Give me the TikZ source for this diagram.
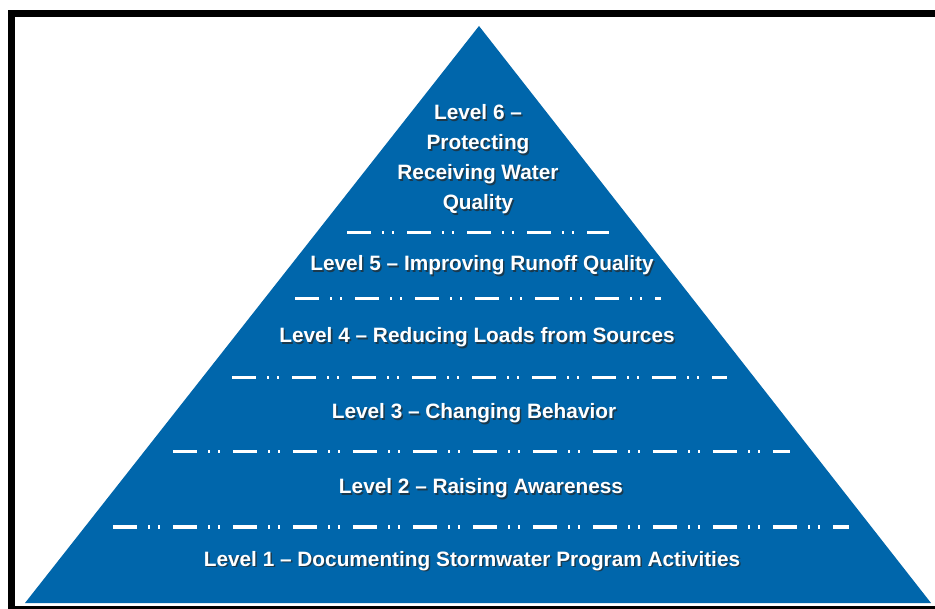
\documentclass[tikz,border=0pt]{standalone}
\usepackage{fontspec}
\setmainfont{Liberation Sans}
\usepackage{tikz}
\definecolor{pyrblue}{RGB}{0,102,171}
\tikzset{
  lvltext/.style={text=white, font=\fontsize{20.8}{30}\selectfont\bfseries, inner sep=0pt, align=center, anchor=base},
  lvlshadow/.style={lvltext, text=black!85, opacity=0.7},
  sepline/.style={white, line width=3pt, dash pattern=on 24pt off 11pt on 2pt off 8pt on 2pt off 13pt}
}
\newcommand{\lvl}[4]{ \node[lvlshadow] (#1s) at ( #2+1.5 , #3+1.5 ) {#4}; \node[lvltext] (#1) at ( #2 , #3 ) {#4};}
\newcommand{\sep}[3]{ \draw[sepline] ( #2 , #1 ) -- ( #3 , #1 );}

\begin{document}
\begin{tikzpicture}[x=1pt,y=-1pt]
        \useasboundingbox (0,0) rectangle (935,609);
        \fill[white] (0,0) rectangle (935,609);

        % frame
        \fill[black] (8,10) rectangle (935,17);
        \fill[black] (8,10) rectangle (15,609);
        \fill[black] (8,606) rectangle (935,609);

        % pyramid
        \fill[pyrblue] (25,603) -- (479,26) -- (931,603) -- cycle;

        % separators
        \sep{233}{347}{609}
        \sep{299}{295}{661}
        \sep{378}{232}{727}
        \sep{452}{173}{790}
        \sep{527}{113}{849}

        % levels
        \lvl{lvl6}{478}{210}{Level 6 --\\Protecting\\Receiving Water\\Quality}
        \lvl{lvl5}{482}{271}{Level 5 -- Improving Runoff Quality}
        \lvl{lvl4}{477}{343}{Level 4 -- Reducing Loads from Sources}
        \lvl{lvl3}{474}{419}{Level 3 -- Changing Behavior}
        \lvl{lvl2}{481}{494}{Level 2 -- Raising Awareness}
        \lvl{lvl1}{472}{566}{Level 1 -- Documenting Stormwater Program Activities}

    \end{tikzpicture}
\end{document}
